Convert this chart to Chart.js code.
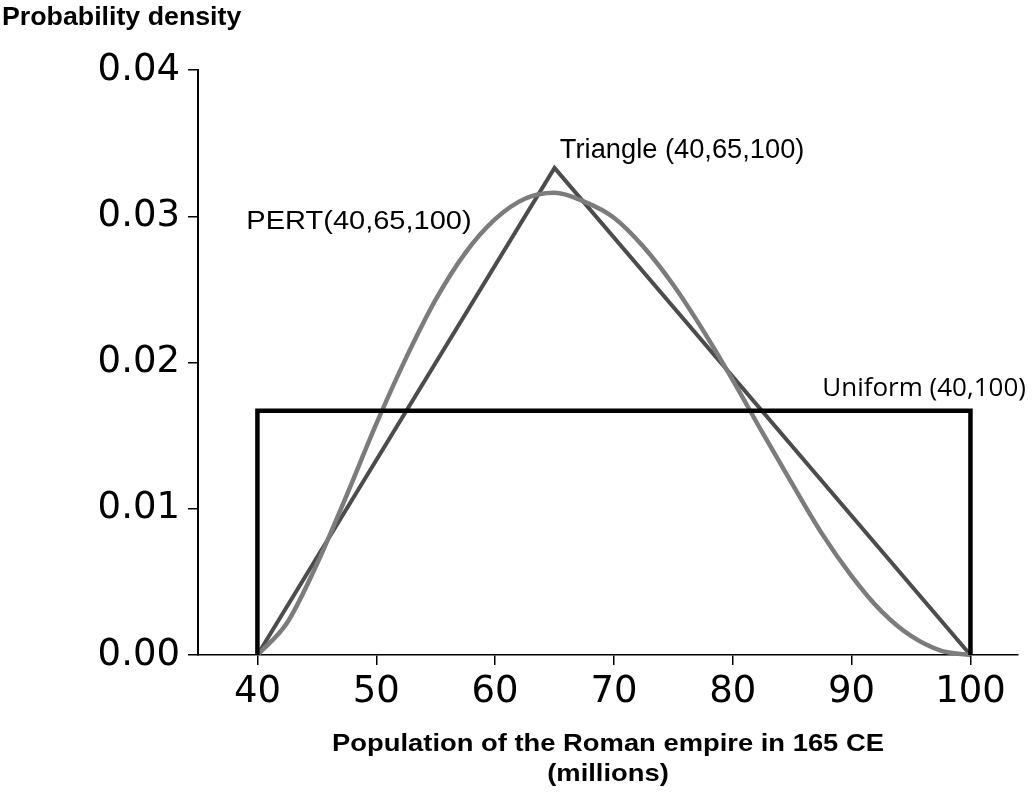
<!DOCTYPE html>
<html>
<head>
<meta charset="utf-8">
<script src="https://cdn.jsdelivr.net/npm/chart.js@4"></script>
<style>
  body { margin: 0; background: #fff; }
  #wrap { width: 1032px; height: 793px; }
</style>
</head>
<body>
<div id="wrap"><canvas id="densityChart" width="1032" height="793"></canvas></div>
<script>
// values
const xTicks = [40, 50, 60, 70, 80, 90, 100];
const yTicks = [0, 0.01, 0.02, 0.03, 0.04];

const uniformX = [40, 40, 100, 100];
const uniformY = [0, 0.0167, 0.0167, 0];

const triangleX = [40, 65, 100];
const triangleY = [0, 0.0333, 0];

const pertX = [40, 42.5, 45, 47.5, 50, 52.5, 55, 57.5, 60, 62.5, 65, 67.5, 70,
               72.5, 75, 77.5, 80, 82.5, 85, 87.5, 90, 92.5, 95, 97.5, 100];
const pertY = [0, 0.0022, 0.0062, 0.0109, 0.0158, 0.0203, 0.0243, 0.0275, 0.0298,
               0.0312, 0.0316, 0.0310, 0.0299, 0.0279, 0.0253, 0.0222, 0.0188,
               0.0152, 0.0117, 0.0083, 0.0054, 0.0030, 0.0013, 0.0003, 0];

const ARIAL = '"Liberation Sans", Arial, sans-serif';
const labels = [
  { text: 'Triangle (40,65,100)', x: 65.45, y: 0.0340, font: '27px ' + ARIAL, sx: 1.01 },
  { text: 'PERT(40,65,100)', x: 39.07, y: 0.0291, font: '26.5px ' + ARIAL, sx: 1.095 },
  { text: 'Uniform (40,100)', x: 87.53, y: 0.0177, font: '26px "Open Sans", sans-serif', sx: 1.0 }
];

function toPoints(xs, ys) {
  return xs.map((x, i) => ({ x: x, y: ys[i] }));
}

// draw text stretched sideways like the original
function stretchText(c, text, x, y, sx) {
  c.save();
  c.translate(x, y);
  c.scale(sx, 1);
  c.fillText(text, 0, 0);
  c.restore();
}

// text that Chart.js can't place the way the picture does
const textPlugin = {
  id: 'textPlugin',
  afterDatasetsDraw(chart) {
    const c = chart.ctx;
    const xs = chart.scales.x, ys = chart.scales.y;
    c.save();
    c.fillStyle = '#000';
    c.textBaseline = 'alphabetic';
    c.textAlign = 'left';
    labels.forEach(l => {
      c.font = l.font;
      stretchText(c, l.text, xs.getPixelForValue(l.x), ys.getPixelForValue(l.y), l.sx);
    });
    c.font = 'bold 25px ' + ARIAL;
    stretchText(c, 'Probability density', 2, 25, 1.07);
    c.textAlign = 'center';
    c.font = 'bold 24px ' + ARIAL;
    const cx = (chart.chartArea.left + chart.chartArea.right) / 2;
    stretchText(c, 'Population of the Roman empire in 165 CE', cx, 751, 1.14);
    stretchText(c, '(millions)', cx, 781, 1.14);
    c.restore();
  }
};

new Chart(document.getElementById('densityChart'), {
  type: 'line',
  data: {
    datasets: [
      {
        label: 'Uniform',
        data: toPoints(uniformX, uniformY),
        borderColor: '#000',
        borderWidth: 4.5,
        pointRadius: 0,
        clip: false,
        order: 0
      },
      {
        label: 'PERT',
        data: toPoints(pertX, pertY),
        borderColor: '#7c7c7c',
        borderWidth: 4.5,
        pointRadius: 0,
        cubicInterpolationMode: 'monotone',
        clip: false,
        order: 1
      },
      {
        label: 'Triangle',
        data: toPoints(triangleX, triangleY),
        borderColor: '#4c4c4c',
        borderWidth: 4,
        pointRadius: 0,
        clip: false,
        order: 2
      }
    ]
  },
  options: {
    responsive: false,
    animation: false,
    layout: { padding: { left: 0, right: 14, top: 70, bottom: 0 } },
    plugins: {
      legend: { display: false },
      tooltip: { enabled: false }
    },
    scales: {
      x: {
        type: 'linear',
        min: 35,
        max: 104,
        afterBuildTicks: s => { s.ticks = xTicks.map(v => ({ value: v })); },
        afterFit: s => { s.height = 138; },
        ticks: {
          color: '#000',
          padding: 5,
          maxRotation: 0,
          font: { family: '"DejaVu Sans", sans-serif', size: 37 }
        },
        grid: { drawOnChartArea: false, drawTicks: true, tickLength: 10, color: '#000', lineWidth: 1.5 },
        border: { display: true, color: '#000', width: 1.5 }
      },
      y: {
        type: 'linear',
        min: 0,
        max: 0.04,
        afterBuildTicks: s => { s.ticks = yTicks.map(v => ({ value: v })); },
        afterFit: s => { s.width = 198; },
        ticks: {
          color: '#000',
          padding: 8,
          callback: v => v.toFixed(2),
          font: { family: '"DejaVu Sans", sans-serif', size: 37 }
        },
        grid: { drawOnChartArea: false, drawTicks: true, tickLength: 10, color: '#000', lineWidth: 1.5 },
        border: { display: true, color: '#000', width: 2 }
      }
    }
  },
  plugins: [textPlugin]
});
</script>
</body>
</html>
